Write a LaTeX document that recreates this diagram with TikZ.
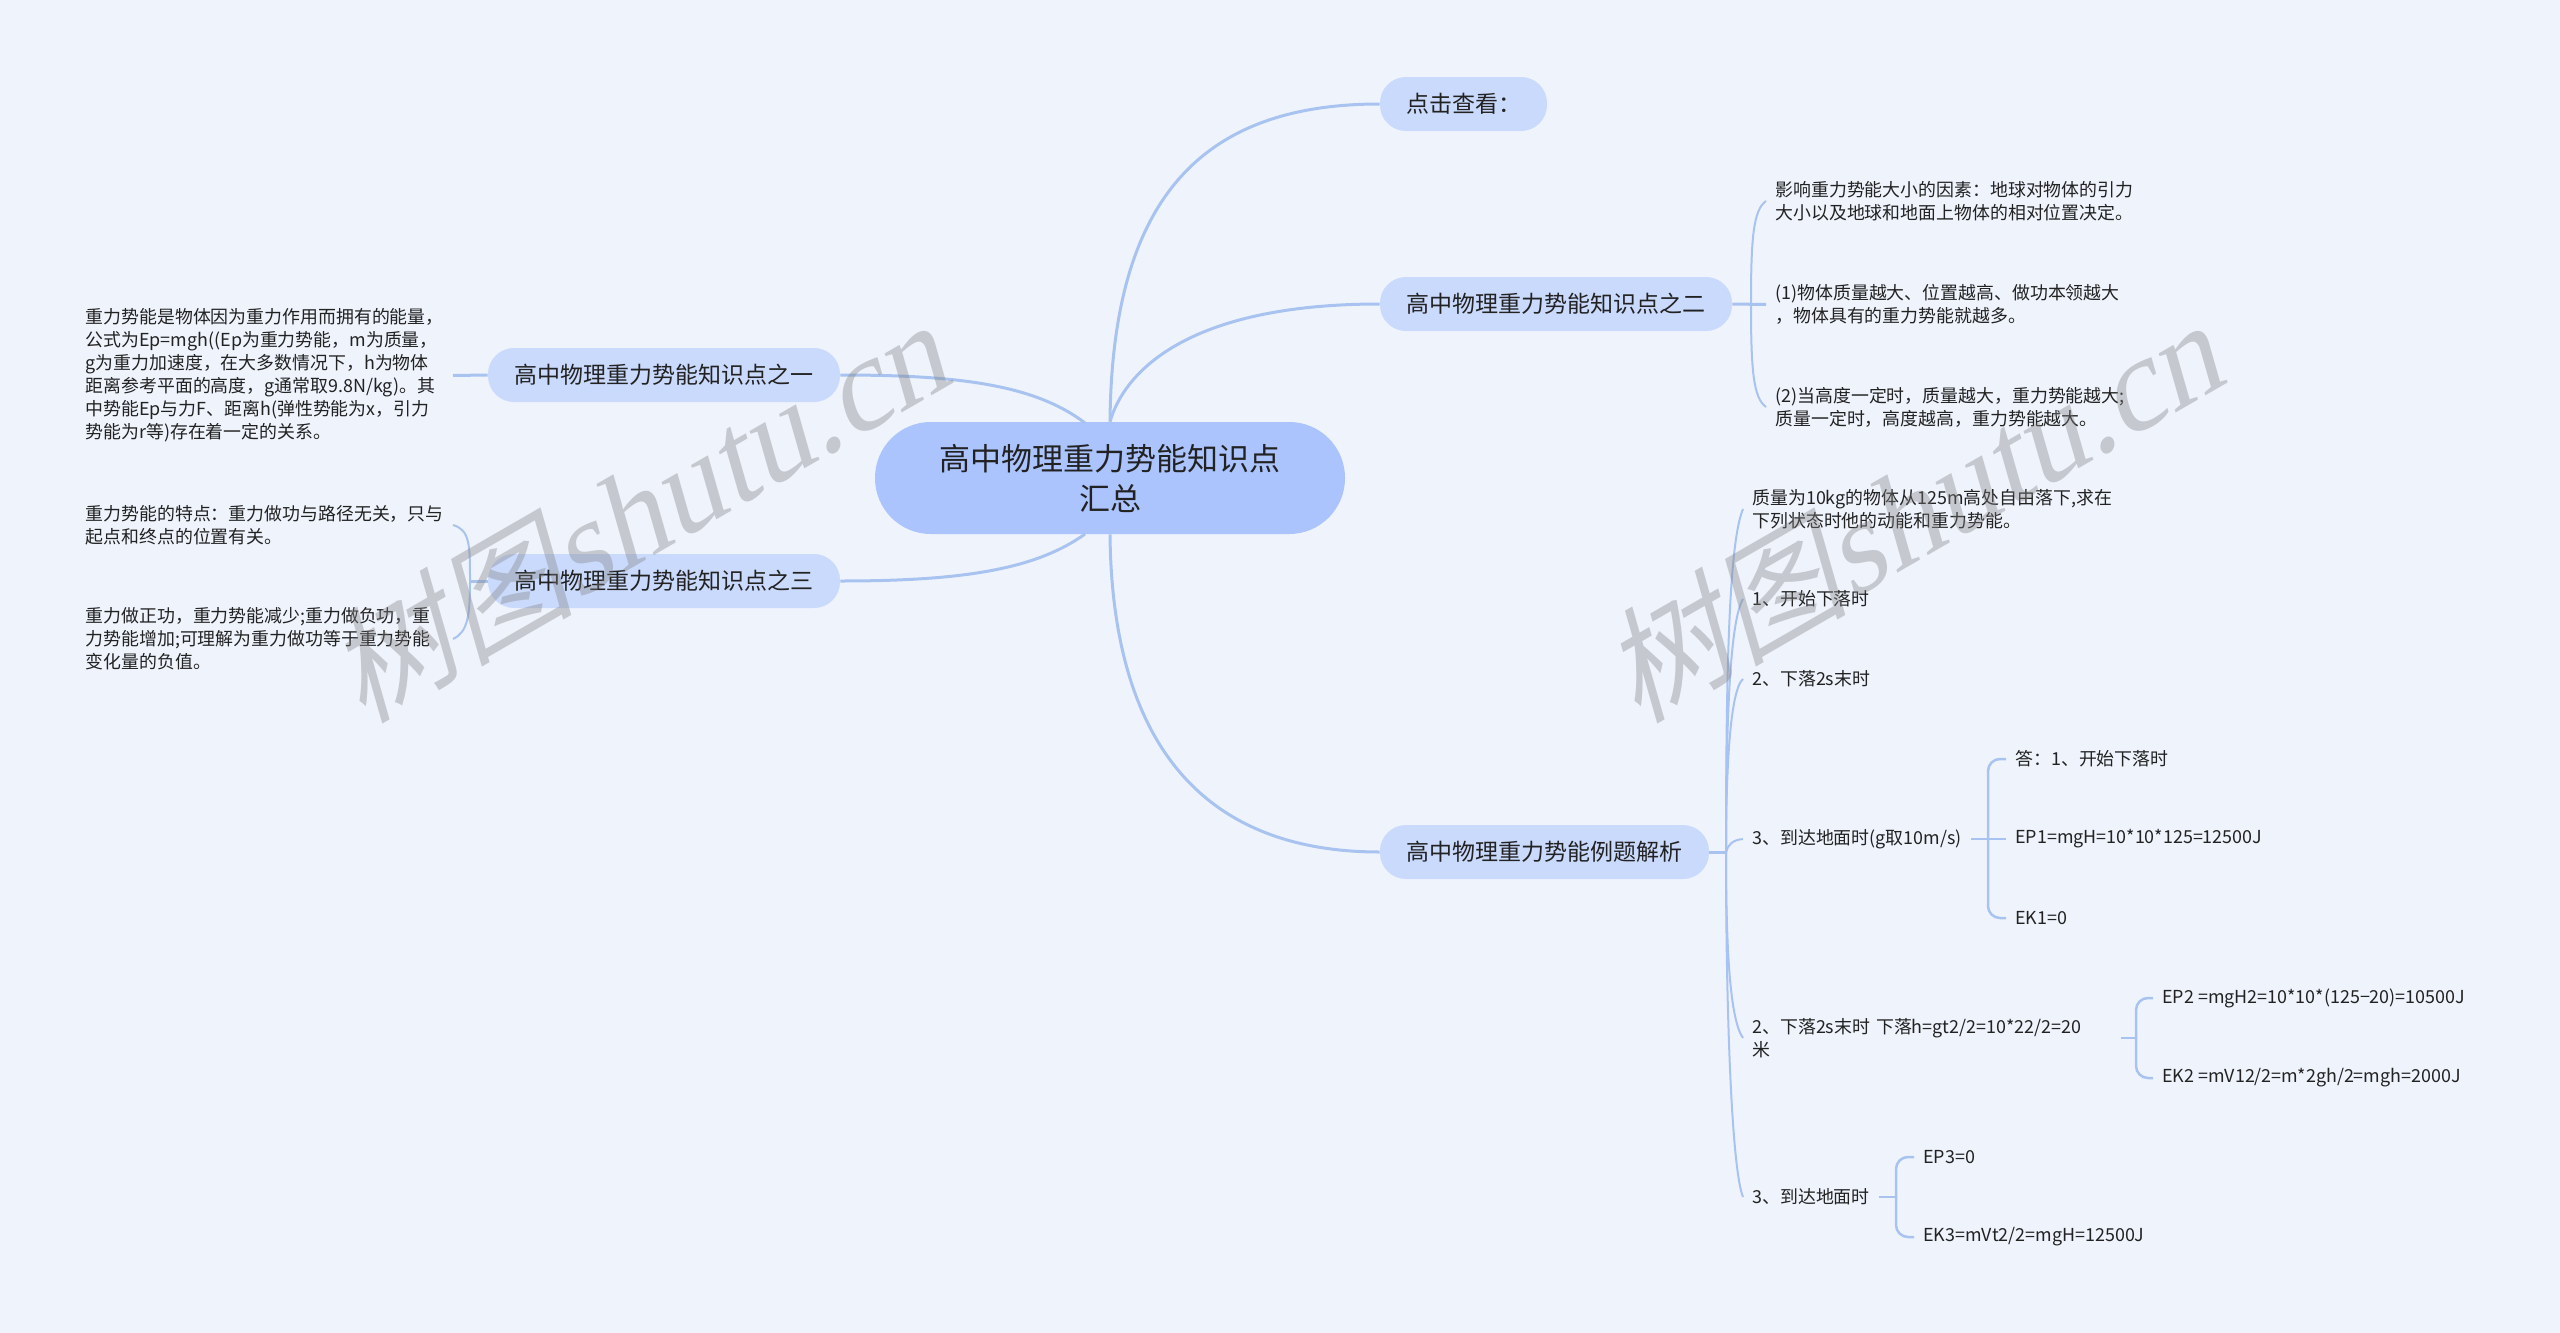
\documentclass[tikz,border=0pt]{standalone}
\usepackage{fontspec}
\setmainfont{Noto Sans CJK SC}
\newfontfamily\wmcjk[FakeSlant=0.25]{Noto Sans CJK SC}
\newfontfamily\wmlat[FakeSlant=0.25]{Liberation Serif}
\definecolor{bgblue}{HTML}{EEF3FC}
\definecolor{rootblue}{HTML}{ABC4FD}
\definecolor{branchblue}{HTML}{CADAFC}
\definecolor{lineblue}{HTML}{A9C3F0}
\definecolor{inkgrey}{HTML}{222222}
\tikzset{
  rootnode/.style={fill=rootblue,draw=none,rounded corners=27.9pt,inner sep=0pt,minimum width=235pt,minimum height=56pt,align=center,text=inkgrey,font=\fontsize{15.5}{20}\selectfont},
  branchnode/.style={fill=branchblue,draw=none,rounded corners=13pt,inner sep=0pt,minimum height=27pt,text=inkgrey,font=\fontsize{11.5}{14}\selectfont},
  leafnode/.style={inner xsep=4.5pt,inner ysep=0pt,align=left,text=inkgrey,font=\fontsize{8.95}{11.5}\selectfont},
  mainline/.style={lineblue,line width=1.5pt},
  subline/.style={lineblue,line width=1pt},
  bracketline/.style={lineblue,line width=1.25pt,rounded corners=6pt},
  wmark/.style={text=gray,opacity=0.37,rotate=30,inner sep=0pt}
}
\begin{document}
\begin{tikzpicture}[x=0.5pt,y=-0.5pt]
        \fill[bgblue] (0,0) rectangle (2560,1333);
        \useasboundingbox (0,0) rectangle (2560,1333);
        % centre and main topics
        \node[rootnode] (root) at (1110,478) {高中物理重力势能知识点\\汇总};
        \node[branchnode,minimum width=83.5pt] (view) at (1463.5,104) {点击查看：};
        \node[branchnode,minimum width=176pt] (two) at (1556,304) {高中物理重力势能知识点之二};
        \node[branchnode,minimum width=164.5pt] (exam) at (1544.5,852) {高中物理重力势能例题解析};
        \node[branchnode,minimum width=176pt] (one) at (664,375) {高中物理重力势能知识点之一};
        \node[branchnode,minimum width=176pt] (three) at (664,581) {高中物理重力势能知识点之三};
        \coordinate (rootnl) at (1085,423);
        \coordinate (rootsl) at (1085,534);
        \draw[mainline] (root.north) .. controls (1112,200) and (1200,104) .. (view.west);
        \draw[mainline] (root.north) .. controls (1125,370) and (1190,304) .. (two.west);
        \draw[mainline] (root.south) .. controls (1112,740) and (1200,852) .. (exam.west);
        \draw[mainline] (rootnl) .. controls (1035,385) and (960,375) .. (one.east);
        \draw[mainline] (rootsl) .. controls (1035,570) and (960,581) .. (three.east);
        % left side
        \node[leafnode,anchor=east,text width=179pt] (onea) at (453,375.5) {重力势能是物体因为重力作用而拥有的能量，\\公式为Ep=mgh((Ep为重力势能，m为质量，\\g为重力加速度，在大多数情况下，h为物体\\距离参考平面的高度，g通常取9.8N/kg)。其\\中势能Ep与力F、距离h(弹性势能为x，引力\\势能为r等)存在着一定的关系。};
        \node[leafnode,anchor=east,text width=179pt] (threea) at (453,525) {重力势能的特点：重力做功与路径无关，只与\\起点和终点的位置有关。};
        \node[leafnode,anchor=east,text width=179pt] (threeb) at (453,639) {重力做正功，重力势能减少;重力做负功，重\\力势能增加;可理解为重力做功等于重力势能\\变化量的负值。};
        \draw[mainline] (one.west) -- (onea.east);
        \coordinate (jthree) at (470,581);
        \draw[mainline] (three.west) -- (jthree);
        \draw[subline] (jthree) .. controls (470,545) and (470,530) .. (threea.east);
        \draw[subline] (jthree) .. controls (470,615) and (468,632) .. (threeb.east);
        % right side, second topic
        \node[leafnode,anchor=west] (twoa) at (1766,201) {影响重力势能大小的因素：地球对物体的引力\\大小以及地球和地面上物体的相对位置决定。};
        \node[leafnode,anchor=west] (twob) at (1766,304.5) {(1)物体质量越大、位置越高、做功本领越大\\，物体具有的重力势能就越多。};
        \node[leafnode,anchor=west] (twoc) at (1766,407) {(2)当高度一定时，质量越大，重力势能越大;\\质量一定时，高度越高，重力势能越大。};
        \coordinate (jtwo) at (1751,304);
        \draw[mainline] (two.east) -- (twob.west);
        \draw[subline] (jtwo) .. controls (1751,240) and (1753,210) .. (twoa.west);
        \draw[subline] (jtwo) .. controls (1751,368) and (1753,398) .. (twoc.west);
        % right side, examples
        \node[leafnode,anchor=west] (exa) at (1743,509) {质量为10kg的物体从125m高处自由落下,求在\\下列状态时他的动能和重力势能。};
        \node[leafnode,anchor=west] (exb) at (1743,599) {1、开始下落时};
        \node[leafnode,anchor=west] (exc) at (1743,679) {2、下落2s末时};
        \node[leafnode,anchor=west] (exd) at (1743,839) {3、到达地面时(g取10m/s)};
        \node[leafnode,anchor=west,text width=179.5pt] (exe) at (1743,1038) {2、下落2s末时 下落h=gt2/2=10*22/2=20\\米};
        \node[leafnode,anchor=west] (exf) at (1743,1197) {3、到达地面时};
        \coordinate (jexam) at (1726,852);
        \draw[mainline] (exam.east) -- (jexam);
        \draw[subline] (jexam) .. controls (1726,650) and (1730,540) .. (exa.west);
        \draw[subline] (jexam) .. controls (1726,720) and (1730,620) .. (exb.west);
        \draw[subline] (jexam) .. controls (1726,770) and (1730,690) .. (exc.west);
        \draw[subline] (jexam) .. controls (1728,845) and (1732,840) .. (exd.west);
        \draw[subline] (jexam) .. controls (1726,950) and (1730,1020) .. (exe.west);
        \draw[subline] (jexam) .. controls (1726,1020) and (1732,1170) .. (exf.west);
        % third level
        \node[leafnode,anchor=west] (da) at (2006,759) {答：1、开始下落时};
        \node[leafnode,anchor=west] (db) at (2006,839) {EP1=mgH=10*10*125=12500J};
        \node[leafnode,anchor=west] (dc) at (2006,918) {EK1=0};
        \coordinate (jd) at (1988,839);
        \draw[bracketline] (exd.east) -- (db.west);
        \draw[bracketline] (jd) |- (da.west);
        \draw[bracketline] (jd) |- (dc.west);
        \node[leafnode,anchor=west] (ea) at (2153,998) {EP2 =mgH2=10*10*(125−20)=10500J};
        \node[leafnode,anchor=west] (eb) at (2153,1078) {EK2 =mV12/2=m*2gh/2=mgh=2000J};
        \coordinate (je) at (2136,1038);
        \draw[bracketline] (exe.east) -- (je);
        \draw[bracketline] (je) |- (ea.west);
        \draw[bracketline] (je) |- (eb.west);
        \node[leafnode,anchor=west] (fa) at (1914,1157) {EP3=0};
        \node[leafnode,anchor=west] (fb) at (1914,1237) {EK3=mVt2/2=mgH=12500J};
        \coordinate (jf) at (1896,1197);
        \draw[bracketline] (exf.east) -- (jf);
        \draw[bracketline] (jf) |- (fa.west);
        \draw[bracketline] (jf) |- (fb.west);
        % watermarks
        \node[wmark] (wmleft) at (636,512) {\fontsize{62}{62}\selectfont\wmcjk 树图\fontsize{65}{65}\selectfont\wmlat shutu.cn};
        \node[wmark] (wmright) at (1910,512) {\fontsize{62}{62}\selectfont\wmcjk 树图\fontsize{65}{65}\selectfont\wmlat shutu.cn};
\end{tikzpicture}
\end{document}
